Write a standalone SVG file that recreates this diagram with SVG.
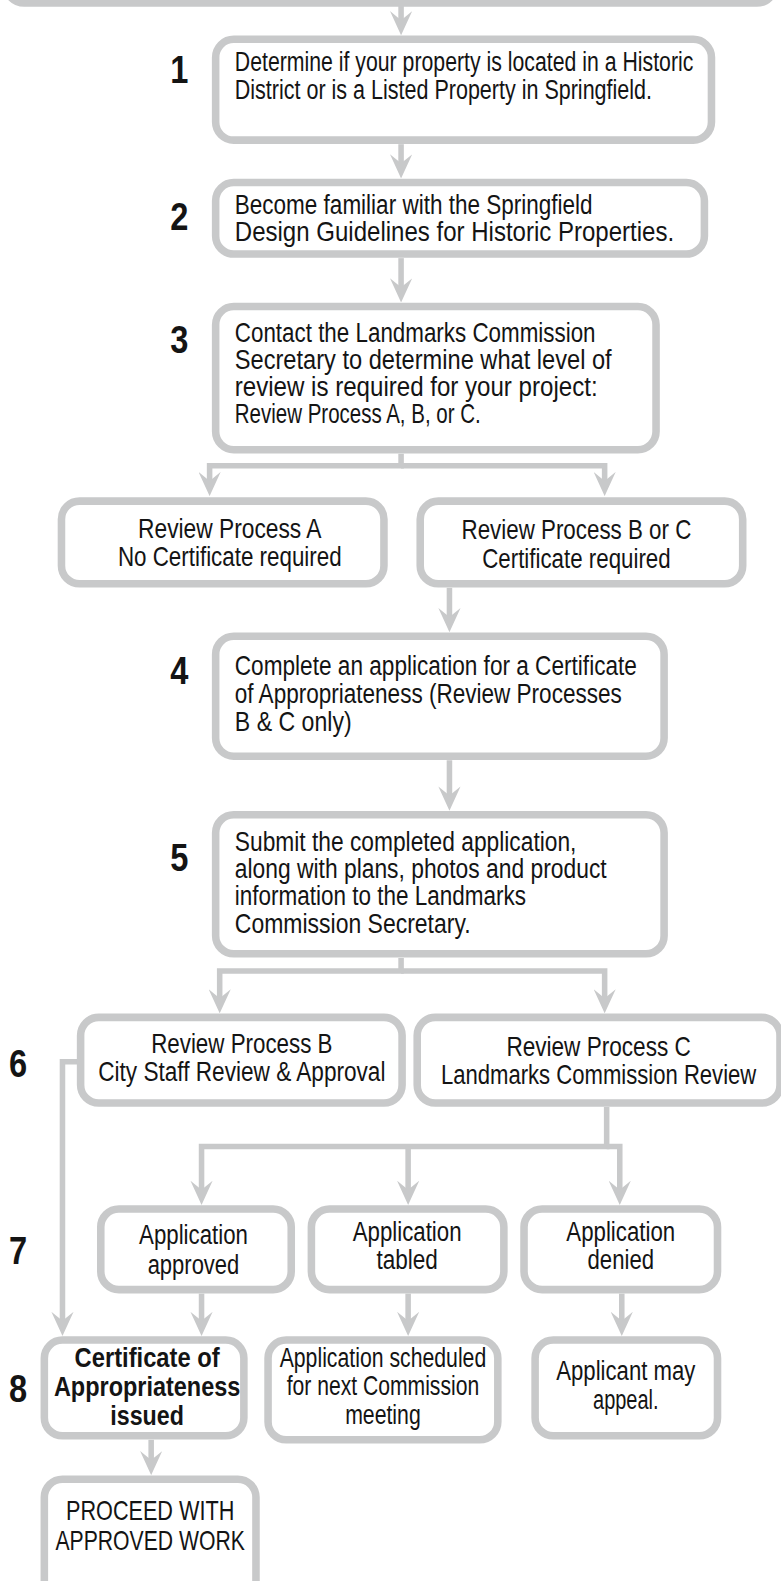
<svg xmlns="http://www.w3.org/2000/svg" width="781" height="1581" viewBox="0 0 781 1581">
<style>
.box{fill:#fff;stroke:#c8c9ca;stroke-width:7.5}
.con{fill:none;stroke:#c8c9ca;stroke-width:5.5}
.t{font-family:'Liberation Sans Narrow','Arial Narrow','Liberation Sans',sans-serif;font-size:26.5px;fill:#141414}
.c{text-anchor:middle}
.b{font-weight:bold}
.n{font-family:'Liberation Sans Narrow','Arial Narrow','Liberation Sans',sans-serif;font-weight:bold;font-size:38px;fill:#141414;text-anchor:middle}
</style>
<defs>
<marker id="ah" viewBox="0 -11 24 22" refX="12" refY="0" markerWidth="24" markerHeight="22" markerUnits="userSpaceOnUse" orient="auto">
<path d="M0,-11 L24,0 L0,11 L9,0 z" fill="#c8c9ca"/>
</marker>
</defs>
<rect width="781" height="1581" fill="#fff"/>
<g transform="scale(1.00774,1.00829)">
<g id="connectors">
<path class="con" d="M398,6 V23" marker-end="url(#ah)"/>
<path class="con" d="M398,143 V165" marker-end="url(#ah)"/>
<path class="con" d="M398,256 V288" marker-end="url(#ah)"/>
<path class="con" d="M398,450 V462 H208 V480" marker-end="url(#ah)"/>
<path class="con" d="M398,462 H600 V480" marker-end="url(#ah)"/>
<path class="con" d="M446,583 V615" marker-end="url(#ah)"/>
<path class="con" d="M446,754 V792" marker-end="url(#ah)"/>
<path class="con" d="M398,950 V963 H218 V993" marker-end="url(#ah)"/>
<path class="con" d="M398,963 H600 V993" marker-end="url(#ah)"/>
<path class="con" d="M80,1053 H62 V1313" marker-end="url(#ah)"/>
<path class="con" d="M602,1098 V1137 H200 V1183" marker-end="url(#ah)"/>
<path class="con" d="M405,1137 V1183" marker-end="url(#ah)"/>
<path class="con" d="M602,1137 H615 V1183" marker-end="url(#ah)"/>
<path class="con" d="M200,1283 V1313" marker-end="url(#ah)"/>
<path class="con" d="M405,1283 V1313" marker-end="url(#ah)"/>
<path class="con" d="M617,1283 V1313" marker-end="url(#ah)"/>
<path class="con" d="M150,1428 V1451" marker-end="url(#ah)"/>
</g>
<g id="top">
<rect class="box" x="6" y="-60" width="763" height="63" rx="18"/>
</g>
<g id="step1">
<text class="n" x="178" y="82" textLength="18" lengthAdjust="spacingAndGlyphs">1</text>
<rect class="box" x="214" y="39" width="492" height="100" rx="18"/>
<text class="t" x="233" y="70.5" textLength="455" lengthAdjust="spacingAndGlyphs">Determine if your property is located in a Historic</text>
<text class="t" x="233" y="98" textLength="414" lengthAdjust="spacingAndGlyphs">District or is a Listed Property in Springfield.</text>
</g>
<g id="step2">
<text class="n" x="178" y="228" textLength="18" lengthAdjust="spacingAndGlyphs">2</text>
<rect class="box" x="214" y="181" width="485" height="71" rx="18"/>
<text class="t" x="233" y="212" textLength="355" lengthAdjust="spacingAndGlyphs">Become familiar with the Springfield</text>
<text class="t" x="233" y="239" textLength="436" lengthAdjust="spacingAndGlyphs">Design Guidelines for Historic Properties.</text>
</g>
<g id="step3">
<text class="n" x="178" y="350" textLength="18" lengthAdjust="spacingAndGlyphs">3</text>
<rect class="box" x="214" y="304" width="437" height="142" rx="18"/>
<text class="t" x="233" y="339" textLength="358" lengthAdjust="spacingAndGlyphs">Contact the Landmarks Commission</text>
<text class="t" x="233" y="366" textLength="374" lengthAdjust="spacingAndGlyphs">Secretary to determine what level of</text>
<text class="t" x="233" y="393" textLength="360" lengthAdjust="spacingAndGlyphs">review is required for your project:</text>
<text class="t" x="233" y="420" textLength="244" lengthAdjust="spacingAndGlyphs">Review Process A, B, or C.</text>
</g>
<g id="processA">
<rect class="box" x="61" y="497" width="320" height="82" rx="18"/>
<text class="t c" x="228" y="534" textLength="182" lengthAdjust="spacingAndGlyphs">Review Process A</text>
<text class="t c" x="228" y="561" textLength="222" lengthAdjust="spacingAndGlyphs">No Certificate required</text>
</g>
<g id="processBC">
<rect class="box" x="417" y="497" width="320" height="82" rx="18"/>
<text class="t c" x="572" y="535" textLength="228" lengthAdjust="spacingAndGlyphs">Review Process B or C</text>
<text class="t c" x="572" y="563" textLength="187" lengthAdjust="spacingAndGlyphs">Certificate required</text>
</g>
<g id="step4">
<text class="n" x="178" y="678" textLength="18" lengthAdjust="spacingAndGlyphs">4</text>
<rect class="box" x="214" y="631" width="445" height="119" rx="18"/>
<text class="t" x="233" y="669" textLength="399" lengthAdjust="spacingAndGlyphs">Complete an application for a Certificate</text>
<text class="t" x="233" y="697" textLength="384" lengthAdjust="spacingAndGlyphs">of Appropriateness (Review Processes</text>
<text class="t" x="233" y="725" textLength="116" lengthAdjust="spacingAndGlyphs">B &amp; C only)</text>
</g>
<g id="step5">
<text class="n" x="178" y="864" textLength="18" lengthAdjust="spacingAndGlyphs">5</text>
<rect class="box" x="214" y="808" width="445" height="138" rx="18"/>
<text class="t" x="233" y="844" textLength="339" lengthAdjust="spacingAndGlyphs">Submit the completed application,</text>
<text class="t" x="233" y="871" textLength="369" lengthAdjust="spacingAndGlyphs">along with plans, photos and product</text>
<text class="t" x="233" y="898" textLength="289" lengthAdjust="spacingAndGlyphs">information to the Landmarks</text>
<text class="t" x="233" y="925" textLength="234" lengthAdjust="spacingAndGlyphs">Commission Secretary.</text>
</g>
<g id="processB">
<text class="n" x="18" y="1068" textLength="18" lengthAdjust="spacingAndGlyphs">6</text>
<rect class="box" x="80" y="1009" width="319" height="85" rx="18"/>
<text class="t c" x="240" y="1044" textLength="180" lengthAdjust="spacingAndGlyphs">Review Process B</text>
<text class="t c" x="240" y="1072" textLength="285" lengthAdjust="spacingAndGlyphs">City Staff Review &amp; Approval</text>
</g>
<g id="processC">
<rect class="box" x="414" y="1009" width="360" height="85" rx="18"/>
<text class="t c" x="594" y="1047" textLength="183" lengthAdjust="spacingAndGlyphs">Review Process C</text>
<text class="t c" x="594" y="1075" textLength="313" lengthAdjust="spacingAndGlyphs">Landmarks Commission Review</text>
</g>
<g id="approved">
<text class="n" x="18" y="1254" textLength="18" lengthAdjust="spacingAndGlyphs">7</text>
<rect class="box" x="100" y="1199" width="189" height="80" rx="18"/>
<text class="t c" x="192" y="1234" textLength="108" lengthAdjust="spacingAndGlyphs">Application</text>
<text class="t c" x="192" y="1264" textLength="91" lengthAdjust="spacingAndGlyphs">approved</text>
</g>
<g id="tabled">
<rect class="box" x="309" y="1199" width="191" height="80" rx="18"/>
<text class="t c" x="404" y="1231" textLength="108" lengthAdjust="spacingAndGlyphs">Application</text>
<text class="t c" x="404" y="1259" textLength="61" lengthAdjust="spacingAndGlyphs">tabled</text>
</g>
<g id="denied">
<rect class="box" x="520" y="1199" width="192" height="80" rx="18"/>
<text class="t c" x="616" y="1231" textLength="108" lengthAdjust="spacingAndGlyphs">Application</text>
<text class="t c" x="616" y="1259" textLength="66" lengthAdjust="spacingAndGlyphs">denied</text>
</g>
<g id="certificate">
<text class="n" x="18" y="1390" textLength="18" lengthAdjust="spacingAndGlyphs">8</text>
<rect class="box" x="44" y="1329" width="198" height="95" rx="18"/>
<text class="t c b" x="146" y="1356" textLength="144" lengthAdjust="spacingAndGlyphs">Certificate of</text>
<text class="t c b" x="146" y="1385" textLength="185" lengthAdjust="spacingAndGlyphs">Appropriateness</text>
<text class="t c b" x="146" y="1413" textLength="73" lengthAdjust="spacingAndGlyphs">issued</text>
</g>
<g id="scheduled">
<rect class="box" x="266" y="1329" width="228" height="99" rx="18"/>
<text class="t c" x="380" y="1356" textLength="205" lengthAdjust="spacingAndGlyphs">Application scheduled</text>
<text class="t c" x="380" y="1384" textLength="191" lengthAdjust="spacingAndGlyphs">for next Commission</text>
<text class="t c" x="380" y="1412" textLength="75" lengthAdjust="spacingAndGlyphs">meeting</text>
</g>
<g id="appeal">
<rect class="box" x="531" y="1329" width="181" height="95" rx="18"/>
<text class="t c" x="621" y="1369" textLength="138" lengthAdjust="spacingAndGlyphs">Applicant may</text>
<text class="t c" x="621" y="1397" textLength="65" lengthAdjust="spacingAndGlyphs">appeal.</text>
</g>
<g id="proceed">
<rect class="box" x="44" y="1467" width="210" height="130" rx="18"/>
<text class="t c" x="149" y="1508" textLength="167" lengthAdjust="spacingAndGlyphs">PROCEED WITH</text>
<text class="t c" x="149" y="1537" textLength="188" lengthAdjust="spacingAndGlyphs">APPROVED WORK</text>
</g>
</g>
</svg>
